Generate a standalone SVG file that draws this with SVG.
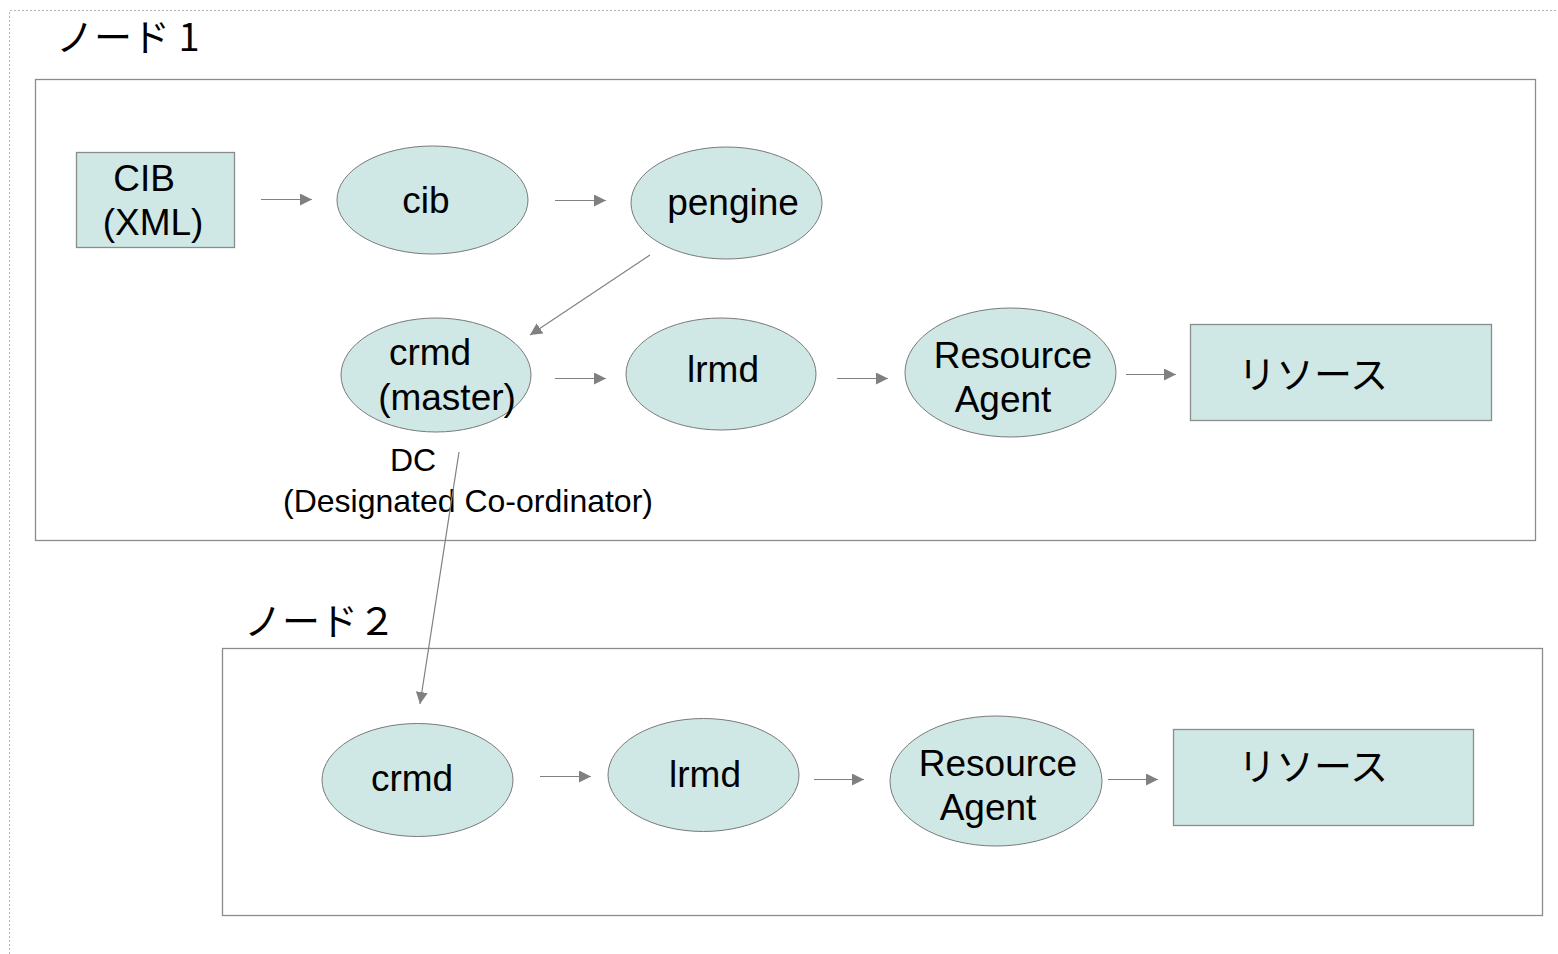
<svg xmlns="http://www.w3.org/2000/svg" width="1558" height="954" viewBox="0 0 1558 954">
  <style>
    .frame { fill: none; stroke: #b3b3b3; stroke-width: 1; stroke-dasharray: 2 2; }
    .group { fill: #ffffff; stroke: #8c8c8c; stroke-width: 1.3; }
    .proc { fill: #cfe7e5; stroke: #7a7a7a; stroke-width: 1; }
    .store { fill: #cfe7e5; stroke: #8c8c8c; stroke-width: 1.3; }
    .lbl { font-family: "Liberation Sans", Arial, sans-serif; font-size: 37px; fill: #000; text-anchor: middle; }
    .note { font-family: "Liberation Sans", Arial, sans-serif; font-size: 32px; fill: #000; text-anchor: middle; }
    .jp { font-family: "Noto Sans CJK JP", "Noto Sans", sans-serif; font-size: 38px; fill: #000; }
    .edge { stroke: #808080; stroke-width: 1.2; fill: none; marker-end: url(#arrow); }
  </style>
  <defs>
    <marker id="arrow" viewBox="0 0 10 10" refX="10" refY="5" markerUnits="userSpaceOnUse" markerWidth="12" markerHeight="12" orient="auto">
      <path d="M0,0 L10,5 L0,10 Z" fill="#808080"/>
    </marker>
  </defs>

  <rect width="1558" height="954" fill="#ffffff"/>
  <!-- page frame -->
  <path class="frame" d="M9.5,954 V10.5 H1558"/>

  <!-- node 1 cluster -->
  <g id="cluster1">
    <text class="jp" x="56" y="51">ノード 1</text>
    <rect class="group" x="35.5" y="79.5" width="1500" height="461"/>
  </g>

  <!-- node 2 cluster -->
  <g id="cluster2">
    <text class="jp" x="244" y="635">ノード２</text>
    <rect class="group" x="222.5" y="648.5" width="1320" height="267"/>
  </g>

  <g id="cib-xml">
    <rect class="store" x="76.5" y="152.5" width="158" height="95"/>
    <text class="lbl" x="144" y="191">CIB</text>
    <text class="lbl" x="153" y="235">(XML)</text>
  </g>

  <g id="cib">
    <ellipse class="proc" cx="432.5" cy="200" rx="95.5" ry="54"/>
    <text class="lbl" x="426" y="213">cib</text>
  </g>

  <g id="pengine">
    <ellipse class="proc" cx="726.5" cy="203" rx="95.5" ry="56"/>
    <text class="lbl" x="733" y="215">pengine</text>
  </g>

  <g id="crmd-master">
    <ellipse class="proc" cx="436" cy="375" rx="95" ry="57"/>
    <text class="lbl" x="430" y="365">crmd</text>
    <text class="lbl" x="447" y="410">(master)</text>
    <text class="note" x="413" y="471">DC</text>
    <text class="note" x="468" y="512">(Designated Co-ordinator)</text>
  </g>

  <g id="lrmd1">
    <ellipse class="proc" cx="721" cy="374" rx="95" ry="56"/>
    <text class="lbl" x="723" y="382">lrmd</text>
  </g>

  <g id="ra1">
    <ellipse class="proc" cx="1010.5" cy="372.5" rx="105.5" ry="64.5"/>
    <text class="lbl" x="1013" y="368">Resource</text>
    <text class="lbl" x="1003" y="412">Agent</text>
  </g>

  <g id="res1">
    <rect class="store" x="1190.5" y="324.5" width="301" height="96"/>
    <text class="jp" x="1238" y="388">リソース</text>
  </g>

  <g id="crmd2">
    <ellipse class="proc" cx="417.5" cy="780" rx="95.5" ry="56.5"/>
    <text class="lbl" x="412" y="791">crmd</text>
  </g>

  <g id="lrmd2">
    <ellipse class="proc" cx="703.5" cy="775" rx="95.5" ry="56.5"/>
    <text class="lbl" x="705" y="787">lrmd</text>
  </g>

  <g id="ra2">
    <ellipse class="proc" cx="996" cy="781" rx="106" ry="65"/>
    <text class="lbl" x="998" y="776">Resource</text>
    <text class="lbl" x="988" y="820">Agent</text>
  </g>

  <g id="res2">
    <rect class="store" x="1173.5" y="729.5" width="300" height="96"/>
    <text class="jp" x="1238" y="780">リソース</text>
  </g>

  <!-- connectors -->
  <g id="connectors">
    <line class="edge" x1="261" y1="199.5" x2="312" y2="199.5"/>
    <line class="edge" x1="555" y1="200.5" x2="606" y2="200.5"/>
    <line class="edge" x1="650" y1="255" x2="530" y2="335"/>
    <line class="edge" x1="555" y1="378.5" x2="606" y2="378.5"/>
    <line class="edge" x1="837" y1="378.5" x2="888" y2="378.5"/>
    <line class="edge" x1="1126" y1="374.5" x2="1176" y2="374.5"/>
    <line class="edge" x1="459" y1="452" x2="420" y2="704"/>
    <line class="edge" x1="540" y1="776.5" x2="591" y2="776.5"/>
    <line class="edge" x1="814" y1="779.5" x2="864" y2="779.5"/>
    <line class="edge" x1="1108" y1="779.5" x2="1158" y2="779.5"/>
  </g>
</svg>
